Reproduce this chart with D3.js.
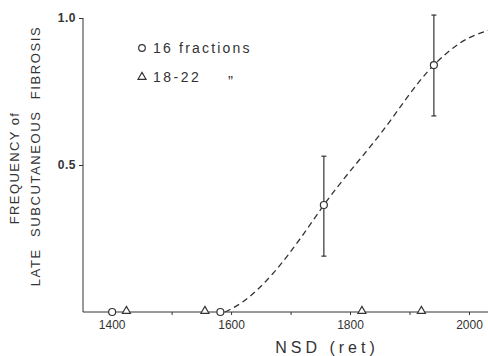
<!DOCTYPE html>
<html><head><meta charset="utf-8">
<script src="https://cdn.jsdelivr.net/npm/d3@7"></script>
<style>body{margin:0;background:#fff}svg{display:block}text{font-family:"Liberation Sans",Arial,sans-serif;fill:#333}</style>
</head><body><svg id="c" width="488" height="356"></svg>
<script>
// Data
const circleNSD = [1400, 1582, 1756, 1941];
const circleFreq = [0, 0, 0.364, 0.84];
const circleLow = [null, null, 0.19, 0.667];
const circleHigh = [null, null, 0.53, 1.01];
const triangleNSD = [1424, 1556, 1820, 1920];
const triangleFreq = [0, 0, 0, 0];
const curveNSD = [1590, 1620, 1670, 1720, 1756, 1850, 1941, 1985, 2032];
const curveFreq = [0, 0.035, 0.13, 0.26, 0.364, 0.603, 0.84, 0.915, 0.958];
const xTickLabels = [1400, 1600, 1800, 2000];
const xMinorTicks = [1500, 1600, 1700, 1800, 1900, 2000];
const yTickLabels = [0.5, 1.0];

const ink = "#333";
const svg = d3.select("#c");
const x = d3.scaleLinear().domain([1351, 2032]).range([83, 488]);
const y = d3.scaleLinear().domain([0, 1]).range([312, 18]);

// axes
const xAxis = d3.axisBottom(x).tickValues(xMinorTicks).tickSize(3).tickFormat(d => xTickLabels.includes(d) ? d : "");
const gx = svg.append("g").attr("transform", `translate(0,${y(0)})`).call(xAxis);
gx.select(".domain").attr("d", `M83,0H488`).attr("stroke", ink);
gx.selectAll(".tick line").attr("stroke", ink);
gx.selectAll("text").attr("font-size", 12).attr("y", 6).attr("dy", "0.95em").style("fill", ink);
// label at 1400 (tick hidden behind marker)
gx.append("text").attr("x", x(1400)).attr("y", 6).attr("dy", "0.95em").attr("text-anchor", "middle").attr("font-size", 12).style("fill", ink).text(xTickLabels[0]);

const yAxis = d3.axisLeft(y).tickValues(yTickLabels).tickSize(4).tickFormat(d3.format(".1f"));
const gy = svg.append("g").attr("transform", `translate(83,0)`).call(yAxis);
gy.select(".domain").attr("d", `M0,${y(1)}V${y(0)}`).attr("stroke", ink);
gy.selectAll(".tick line").attr("stroke", ink);
gy.selectAll("text").attr("font-size", 12).attr("font-weight", "bold").attr("letter-spacing", 0.5).style("fill", ink);

// dashed fitted curve
const line = d3.line().x(d => x(d[0])).y(d => y(d[1])).curve(d3.curveMonotoneX);
svg.append("path").datum(curveNSD.map((v, i) => [v, curveFreq[i]]))
  .attr("d", line).attr("fill", "none").attr("stroke", ink).attr("stroke-width", 1.3).attr("stroke-dasharray", "6,4");

// error bars
circleNSD.forEach((v, i) => {
  if (circleLow[i] == null) return;
  const g = svg.append("g").attr("stroke", ink).attr("stroke-width", 1.2);
  g.append("line").attr("x1", x(v)).attr("x2", x(v)).attr("y1", y(circleLow[i])).attr("y2", y(circleHigh[i]));
  [circleLow[i], circleHigh[i]].forEach(e => g.append("line").attr("x1", x(v) - 2.5).attr("x2", x(v) + 2.5).attr("y1", y(e)).attr("y2", y(e)));
});

// markers
const tri = d3.symbol().type(d3.symbolTriangle).size(28);
svg.selectAll(".c").data(circleNSD).join("circle")
  .attr("cx", d => x(d)).attr("cy", (d, i) => y(circleFreq[i])).attr("r", 3.5)
  .attr("fill", "#fff").attr("stroke", ink).attr("stroke-width", 1.2);
svg.selectAll(".t").data(triangleNSD).join("path")
  .attr("d", tri).attr("transform", (d, i) => `translate(${x(d)},${y(triangleFreq[i]) - 1})`)
  .attr("fill", "#fff").attr("stroke", ink).attr("stroke-width", 1.2);

// legend
svg.append("circle").attr("cx", 142).attr("cy", 48).attr("r", 3.3).attr("fill", "#fff").attr("stroke", ink).attr("stroke-width", 1.2);
svg.append("text").attr("x", 153).attr("y", 53).attr("font-size", 14).attr("letter-spacing", 2.2).text("16 fractions");
svg.append("path").attr("d", tri).attr("transform", "translate(142,77)").attr("fill", "#fff").attr("stroke", ink).attr("stroke-width", 1.2);
svg.append("text").attr("x", 153).attr("y", 82).attr("font-size", 14).attr("letter-spacing", 2.5).text("18-22");
svg.append("text").attr("x", 228).attr("y", 86).attr("font-size", 15).text("\u201D");

// axis titles
svg.append("text").attr("transform", "translate(19,168) rotate(-90)").attr("text-anchor", "middle")
  .attr("font-size", 13).attr("letter-spacing", 1.4).text("FREQUENCY of");
svg.append("text").attr("transform", "translate(40,156) rotate(-90)").attr("text-anchor", "middle")
  .attr("font-size", 13).attr("letter-spacing", 1.6).attr("word-spacing", 6).text("LATE SUBCUTANEOUS FIBROSIS");
svg.append("text").attr("x", 327).attr("y", 353).attr("text-anchor", "middle")
  .attr("font-size", 16).attr("letter-spacing", 4).text("NSD (ret)");
</script></body></html>
